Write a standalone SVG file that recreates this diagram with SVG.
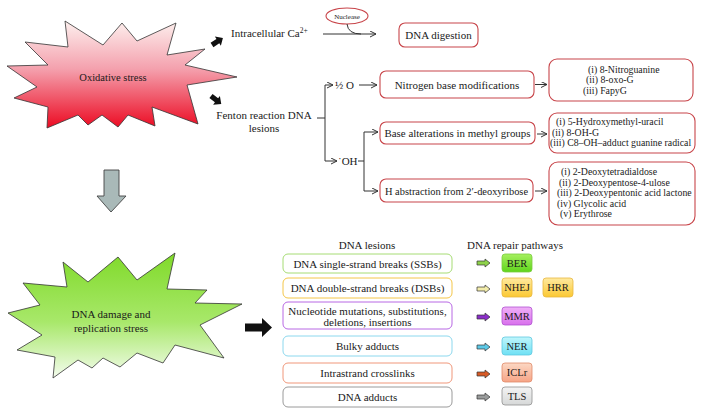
<svg xmlns="http://www.w3.org/2000/svg" width="702" height="414" viewBox="0 0 702 414" font-family="'Liberation Serif', 'Times New Roman', serif">
<defs>
<style>
text{font-family:'Liberation Serif','Times New Roman',serif;fill:#1a1a1a;}
.t{font-size:11px;}
.s{font-size:9.8px;}
.p{font-size:10.5px;}
.rb{fill:#fff;stroke:#c8454a;stroke-width:1.1;}
.ln{fill:none;stroke:#333;stroke-width:1;}
.blk{fill:#111;}
.sa{stroke:#333;stroke-width:0.7;}
</style>
<marker id="ah" markerWidth="8" markerHeight="8" refX="6" refY="3" orient="auto" markerUnits="userSpaceOnUse">
<path d="M0,0 L6,3 L0,6" fill="none" stroke="#333" stroke-width="1"/>
</marker>
<linearGradient id="gRed" x1="0" y1="0" x2="0" y2="1">
<stop offset="0" stop-color="#fdf0ee"/><stop offset="0.45" stop-color="#f4a0ad"/><stop offset="1" stop-color="#ec0a22"/>
</linearGradient>
<linearGradient id="gGreen" x1="0" y1="0" x2="0" y2="1">
<stop offset="0" stop-color="#80da2a"/><stop offset="0.55" stop-color="#a8e86a"/><stop offset="1" stop-color="#f4fcee"/>
</linearGradient>
<linearGradient id="gBER" x1="0" y1="0" x2="0" y2="1"><stop offset="0" stop-color="#a6f060"/><stop offset="1" stop-color="#5fd41c"/></linearGradient>
<linearGradient id="gNH" x1="0" y1="0" x2="0" y2="1"><stop offset="0" stop-color="#ffeaa0"/><stop offset="1" stop-color="#fbc832"/></linearGradient>
<linearGradient id="gMMR" x1="0" y1="0" x2="0" y2="1"><stop offset="0" stop-color="#f0b0f8"/><stop offset="1" stop-color="#d870ec"/></linearGradient>
<linearGradient id="gNER" x1="0" y1="0" x2="0" y2="1"><stop offset="0" stop-color="#c0f6fc"/><stop offset="1" stop-color="#6ee0f4"/></linearGradient>
<linearGradient id="gICL" x1="0" y1="0" x2="0" y2="1"><stop offset="0" stop-color="#fcd8c4"/><stop offset="1" stop-color="#f6a486"/></linearGradient>
<linearGradient id="gTLS" x1="0" y1="0" x2="0" y2="1"><stop offset="0" stop-color="#f4f4f4"/><stop offset="1" stop-color="#d6d8d8"/></linearGradient>
<path id="sarr" d="M0,-2 L8,-2 L8,-4 L13,0 L8,4 L8,2 L0,2 Z"/>
</defs>

<g id="oxidative-stress">
<polygon points="65,21 103,45 122,23 137,41 176,23 167,55 205,49 185,65 237,77 187,85 198,124 152,107 155,126 128,115 118,127 102,115 88,125 78,115 47,128 48,107 14,98 37,87 7,66 48,65 25,42 68,47" fill="url(#gRed)" stroke="#333" stroke-width="0.8"/>
<text x="113" y="81" text-anchor="middle" style="font-size:10.5px">Oxidative stress</text>
</g>

<g id="black-arrows">
<path class="blk" d="M0,-2.6 L7,-2.6 L7,-5.5 L13,0 L7,5.5 L7,2.6 L0,2.6 Z" transform="translate(212,45) rotate(-33)"/>
<path class="blk" d="M0,-2.6 L7,-2.6 L7,-5.5 L13,0 L7,5.5 L7,2.6 L0,2.6 Z" transform="translate(211,96) rotate(38)"/>
<path class="blk" d="M245,323.5 L262,323.5 L262,318 L272,327.5 L262,337 L262,331.5 L245,331.5 Z"/>
</g>

<g id="gray-arrow">
<path d="M104,170 L119,170 L119,196 L126,196 L111,212 L97,196 L104,196 Z" fill="#a9b9b8" stroke="#444" stroke-width="0.9"/>
</g>

<g id="intracellular">
<text x="231" y="37" class="t">Intracellular Ca<tspan style="font-size:7.5px" dy="-4">2+</tspan></text>
</g>

<g id="nuclease">
<ellipse cx="347" cy="16" rx="21" ry="8" class="rb"/>
<text x="347" y="18.5" text-anchor="middle" style="font-size:7px">Nuclease</text>
</g>

<g id="dna-digestion">
<rect x="399" y="23" width="79" height="24" rx="6" class="rb"/>
<text x="438.5" y="39" text-anchor="middle" class="t">DNA digestion</text>
</g>

<g id="fenton">
<text x="264" y="119" text-anchor="middle" class="t">Fenton reaction DNA</text>
<text x="264" y="132" text-anchor="middle" class="t">lesions</text>
</g>

<g id="half-o"><text x="335" y="88.5" class="t">½ O</text></g>
<g id="oh"><text x="338" y="165" class="t">˙OH</text></g>

<g id="nitrogen">
<rect x="380" y="71" width="154" height="27" rx="6" class="rb"/>
<text x="457" y="88.5" text-anchor="middle" class="t">Nitrogen base modifications</text>
</g>
<g id="list1">
<rect x="549" y="59" width="144" height="42" rx="8" class="rb"/>
<text x="588" y="72.5" class="s">(i) 8-Nitroguanine</text>
<text x="586" y="83" class="s">(ii) 8-oxo-G</text>
<text x="583" y="93.5" class="s">(iii) FapyG</text>
</g>

<g id="base-alt">
<rect x="380" y="122" width="155" height="22" rx="6" class="rb"/>
<text x="457.5" y="137" text-anchor="middle" class="t" textLength="146" lengthAdjust="spacingAndGlyphs">Base alterations in methyl groups</text>
</g>
<g id="list2">
<rect x="549" y="113" width="146" height="40" rx="8" class="rb"/>
<text x="556" y="125" class="s">(i) 5-Hydroxymethyl-uracil</text>
<text x="552" y="135.5" class="s">(ii) 8-OH-G</text>
<text x="550" y="146" class="s">(iii) C8–OH–adduct guanine radical</text>
</g>

<g id="h-abstraction">
<rect x="380" y="179" width="153" height="23" rx="6" class="rb"/>
<text x="456.5" y="194.5" text-anchor="middle" class="t" textLength="143" lengthAdjust="spacingAndGlyphs">H abstraction from 2′-deoxyribose</text>
</g>
<g id="list3">
<rect x="549" y="162" width="146" height="63" rx="9" class="rb"/>
<text x="561" y="175" class="s">(i) 2-Deoxytetradialdose</text>
<text x="559" y="185.5" class="s">(ii) 2-Deoxypentose-4-ulose</text>
<text x="557" y="196" class="s">(iii) 2-Deoxypentonic acid lactone</text>
<text x="557" y="206.5" class="s">(iv) Glycolic acid</text>
<text x="560" y="217" class="s">(v) Erythrose</text>
</g>

<g id="connectors">
<line x1="323" y1="34" x2="376" y2="34" class="ln" marker-end="url(#ah)"/>
<path d="M347,24 Q348,34 361,34" class="ln"/>
<path d="M317,118 L325,118" class="ln"/>
<path d="M325,85 L325,161" class="ln"/>
<line x1="325" y1="85" x2="333" y2="85" class="ln" marker-end="url(#ah)"/>
<line x1="325" y1="161" x2="337" y2="161" class="ln" marker-end="url(#ah)"/>
<line x1="359" y1="85" x2="377" y2="85" class="ln" marker-end="url(#ah)"/>
<path d="M358,161 L364,161 M364,132 L364,191" class="ln"/>
<line x1="364" y1="132" x2="378" y2="132" class="ln" marker-end="url(#ah)"/>
<line x1="364" y1="191" x2="378" y2="191" class="ln" marker-end="url(#ah)"/>
<line x1="535" y1="84.5" x2="547" y2="84.5" class="ln" marker-end="url(#ah)"/>
<line x1="537" y1="134" x2="547" y2="134" class="ln" marker-end="url(#ah)"/>
<line x1="535" y1="191" x2="547" y2="191" class="ln" marker-end="url(#ah)"/>
</g>

<g id="dna-damage">
<polygon points="63,262 88,282 118,257 137,280 175,253 167,289 207,290 195,303 242,304 200,325 224,358 175,345 163,363 137,353 120,367 103,358 92,368 78,360 53,378 55,357 17,350 42,335 8,313 40,305 23,283 67,287" fill="url(#gGreen)" stroke="#333" stroke-width="0.8"/>
<text x="111" y="318" text-anchor="middle" style="font-size:11px">DNA damage and</text>
<text x="111" y="332" text-anchor="middle" style="font-size:11px">replication stress</text>
</g>

<g id="lesions">
<text x="367" y="248.5" text-anchor="middle" class="t">DNA lesions</text>
<rect x="283" y="254" width="169" height="19" rx="5" fill="#fff" stroke="#a6dc74" stroke-width="1"/>
<text x="367.5" y="267.5" text-anchor="middle" class="t">DNA single-strand breaks (SSBs)</text>
<rect x="283" y="278" width="169" height="20" rx="5" fill="#fff" stroke="#f4c648" stroke-width="1"/>
<text x="367.5" y="292" text-anchor="middle" class="t">DNA double-strand breaks (DSBs)</text>
<rect x="283" y="302" width="169" height="27" rx="5" fill="#fff" stroke="#b868e4" stroke-width="1"/>
<text x="367.5" y="314.5" text-anchor="middle" class="t">Nucleotide mutations, substitutions,</text>
<text x="367.5" y="326" text-anchor="middle" class="t">deletions, insertions</text>
<rect x="283" y="336" width="169" height="20" rx="5" fill="#fff" stroke="#8cd8ee" stroke-width="1"/>
<text x="367.5" y="350" text-anchor="middle" class="t">Bulky adducts</text>
<rect x="283" y="363" width="169" height="20" rx="5" fill="#fff" stroke="#f0977a" stroke-width="1"/>
<text x="367.5" y="377" text-anchor="middle" class="t">Intrastrand crosslinks</text>
<rect x="283" y="387" width="169" height="20" rx="5" fill="#fff" stroke="#9a9a9a" stroke-width="1"/>
<text x="367.5" y="401" text-anchor="middle" class="t">DNA adducts</text>
</g>

<g id="repair-arrows">
<use href="#sarr" x="477" y="263" fill="#8ed24a" class="sa"/>
<use href="#sarr" x="477" y="289" fill="#f2ecaa" class="sa"/>
<use href="#sarr" x="477" y="317" fill="#8a2ec8" class="sa"/>
<use href="#sarr" x="477" y="347" fill="#5cc8e6" class="sa"/>
<use href="#sarr" x="477" y="374" fill="#d65a26" class="sa"/>
<use href="#sarr" x="477" y="397" fill="#9a9c9c" class="sa"/>
</g>

<g id="pathways">
<text x="467" y="248.5" class="t">DNA repair pathways</text>
<rect x="502" y="254" width="30" height="18" rx="3" fill="url(#gBER)" stroke="#7ccc40" stroke-width="0.8"/>
<text x="517" y="266.8" text-anchor="middle" class="p">BER</text>
<rect x="502" y="278" width="30" height="19" rx="3" fill="url(#gNH)" stroke="#e8b840" stroke-width="0.8"/>
<text x="517" y="291.3" text-anchor="middle" class="p">NHEJ</text>
<rect x="543" y="278" width="30" height="19" rx="3" fill="url(#gNH)" stroke="#e8b840" stroke-width="0.8"/>
<text x="558" y="291.3" text-anchor="middle" class="p">HRR</text>
<rect x="502" y="307" width="30" height="18" rx="3" fill="url(#gMMR)" stroke="#b050d0" stroke-width="0.8"/>
<text x="517" y="319.8" text-anchor="middle" class="p">MMR</text>
<rect x="502" y="337" width="30" height="18" rx="3" fill="url(#gNER)" stroke="#60c8e0" stroke-width="0.8"/>
<text x="517" y="349.8" text-anchor="middle" class="p">NER</text>
<rect x="502" y="363" width="30" height="19" rx="3" fill="url(#gICL)" stroke="#e08a6a" stroke-width="0.8"/>
<text x="517" y="376.3" text-anchor="middle" class="p">ICLr</text>
<rect x="502" y="387" width="30" height="18" rx="3" fill="url(#gTLS)" stroke="#909090" stroke-width="0.8"/>
<text x="517" y="399.8" text-anchor="middle" class="p">TLS</text>
</g>
</svg>
